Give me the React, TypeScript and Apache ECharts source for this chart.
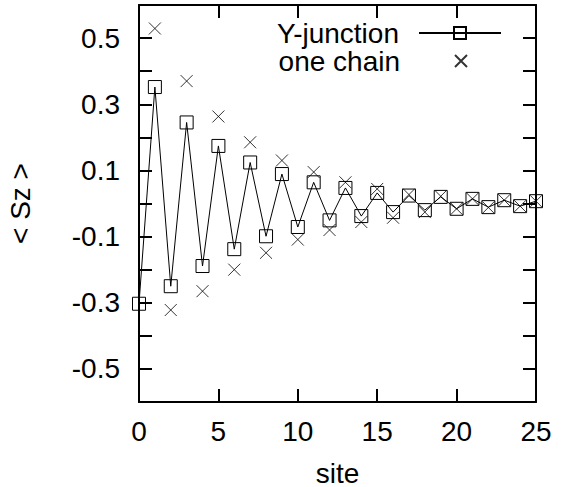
import React, { useEffect, useRef } from "react";
import * as echarts from "echarts";

const sites = [0, 1, 2, 3, 4, 5, 6, 7, 8, 9, 10, 11, 12, 13, 14, 15, 16, 17, 18, 19, 20, 21, 22, 23, 24, 25];
const yJunction = [-0.303, 0.352, -0.25, 0.245, -0.189, 0.174, -0.138, 0.124, -0.099, 0.089, -0.071, 0.064, -0.051, 0.047, -0.038, 0.032, -0.026, 0.024, -0.02, 0.02, -0.016, 0.014, -0.011, 0.01, -0.008, 0.007];
const chainSites = [1, 2, 3, 4, 5, 6, 7, 8, 9, 10, 11, 12, 13, 14, 15, 16, 17, 18, 19, 20, 21, 22, 23, 24, 25];
const oneChain = [0.529, -0.322, 0.37, -0.265, 0.263, -0.2, 0.185, -0.149, 0.13, -0.109, 0.095, -0.08, 0.064, -0.056, 0.044, -0.043, 0.027, -0.026, 0.022, -0.016, 0.014, -0.012, 0.01, -0.008, 0.007];

const FONT = "Liberation Sans";
const FS = 28;
const CROSS = "path://M0,0L10,10M10,0L0,10";

export default function App() {
  const ref = useRef<HTMLDivElement>(null);
  useEffect(() => {
    if (!ref.current) return;
    const chart = echarts.init(ref.current, null, { renderer: "svg" });
    const axisLine = { show: true, onZero: false, lineStyle: { color: "#000", width: 2 } };
    const axisTick = { show: true, inside: true, length: 13, lineStyle: { color: "#000", width: 2 } };
    chart.setOption({
      animation: false,
      backgroundColor: "#fff",
      textStyle: { fontFamily: FONT },
      grid: { left: 139, right: 28, top: 5, bottom: 85, containLabel: false, outerBoundsMode: "none" },
      legend: [
        {
          data: ["Y-junction"],
          right: 57,
          top: 14,
          align: "right",
          itemWidth: 82,
          itemHeight: 15,
          textStyle: { fontFamily: FONT, fontSize: FS, lineHeight: 26, color: "#000", padding: [0, 15, 0, 0] },
        },
        {
          data: ["one chain"],
          right: 91,
          top: 42,
          align: "right",
          itemWidth: 82,
          itemHeight: 12,
          textStyle: { fontFamily: FONT, fontSize: FS, lineHeight: 26, color: "#000", padding: [0, 15, 0, 0] },
        },
      ],
      xAxis: [
        {
          type: "value",
          min: 0,
          max: 25,
          interval: 5,
          position: "bottom",
          name: "site",
          nameLocation: "middle",
          nameGap: 58,
          nameTextStyle: { fontFamily: FONT, fontSize: FS, lineHeight: 26, color: "#000" },
          axisLine,
          axisTick,
          splitLine: { show: false },
          axisLabel: { fontFamily: FONT, fontSize: FS, color: "#000", margin: 15 },
        },
        {
          type: "value",
          min: 0,
          max: 25,
          interval: 5,
          position: "top",
          axisLine,
          axisTick,
          splitLine: { show: false },
          axisLabel: { show: false },
        },
      ],
      yAxis: [
        {
          type: "value",
          min: -0.6,
          max: 0.6,
          interval: 0.1,
          position: "left",
          name: "< Sz >",
          nameLocation: "middle",
          nameRotate: 90,
          nameGap: 105,
          nameTextStyle: { fontFamily: FONT, fontSize: FS, color: "#000" },
          axisLine,
          axisTick,
          splitLine: { show: false },
          axisLabel: {
            fontFamily: FONT,
            fontSize: FS,
            color: "#000",
            margin: 19,
            formatter: (v: number) => {
              const k = Math.round(v * 10);
              if (Math.abs(k) % 2 === 1) return (k / 10).toFixed(1);
              return "";
            },
          },
        },
        {
          type: "value",
          min: -0.6,
          max: 0.6,
          interval: 0.1,
          position: "right",
          axisLine,
          axisTick,
          splitLine: { show: false },
          axisLabel: { show: false },
        },
      ],
      series: [
        {
          name: "Y-junction",
          type: "line",
          data: sites.map((s, i) => [s, yJunction[i]]),
          symbol: "rect",
          symbolSize: 13,
          lineStyle: { color: "#000", width: 1 },
          itemStyle: { color: "rgba(0,0,0,0)", borderColor: "#000", borderWidth: 1 },
          z: 3,
        },
        {
          name: "one chain",
          type: "scatter",
          data: chainSites.map((s, i) => [s, oneChain[i]]),
          symbol: CROSS,
          symbolSize: 12,
          itemStyle: { color: "rgba(0,0,0,0)", borderColor: "#000", borderWidth: 1 },
          z: 2,
        },
      ],
    });
    return () => chart.dispose();
  }, []);
  return (
    <div
      ref={ref}
      style={{ position: "fixed", left: 0, top: 0, width: 564, height: 487 }}
    />
  );
}
